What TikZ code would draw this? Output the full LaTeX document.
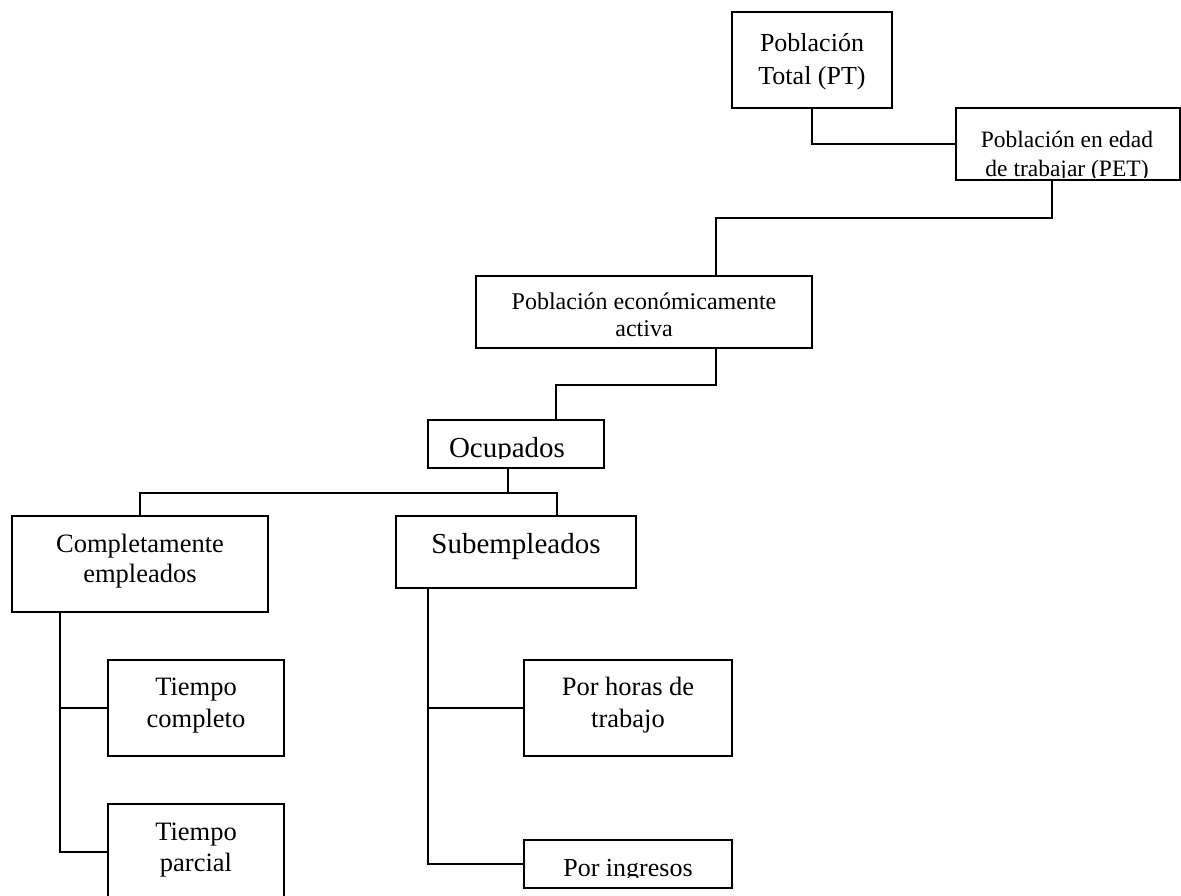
\documentclass[tikz,border=0pt]{standalone}
\usepackage{fontspec}
\setmainfont{Liberation Serif}
\begin{document}
\begin{tikzpicture}[x=1pt,y=-1pt,line width=1.8pt,
  box/.style={draw,rectangle,inner sep=0pt,line join=miter},
  lbl/.style={anchor=base,inner sep=0pt},
  fA/.style={font=\fontsize{26}{31}\selectfont},
  fB/.style={font=\fontsize{23.5}{28}\selectfont},
  fC/.style={font=\fontsize{24}{28}\selectfont},
  fD/.style={font=\fontsize{29}{34}\selectfont},
  fE/.style={font=\fontsize{26.5}{31}\selectfont}]
\useasboundingbox (0,0) rectangle (1181,896);
% boxes
\node[box,minimum width=160pt,minimum height=96pt] (PT) at (812,60) {};
\node[box,minimum width=224pt,minimum height=72pt] (PET) at (1068,144) {};
\node[box,minimum width=336pt,minimum height=72pt] (PEA) at (644,312) {};
\node[box,minimum width=176pt,minimum height=48pt] (OC) at (516,444) {};
\node[box,minimum width=256pt,minimum height=96pt] (CE) at (140,564) {};
\node[box,minimum width=240pt,minimum height=72pt] (SU) at (516,552) {};
\node[box,minimum width=176pt,minimum height=96pt] (TC) at (196,708) {};
\node[box,minimum width=176pt,minimum height=96pt] (TP) at (196,852) {};
\node[box,minimum width=208pt,minimum height=96pt] (PH) at (628,708) {};
\node[box,minimum width=208pt,minimum height=48pt] (PI) at (628,864) {};
% texts
\node[lbl,fA] (tPT1) at (812,52) {Población};
\node[lbl,fA] (tPT2) at (812,85) {Total (PT)};
\node[lbl,fB] (tPET1) at (1067,148) {Población en edad};
\begin{scope}
\clip (960,150) rectangle (1176,177.8);
\node[lbl,fB] (tPET2) at (1067,177) {de trabajar (PET)};
\end{scope}
\node[lbl,fC] (tPEA1) at (644,309) {Población económicamente};
\node[lbl,fC] (tPEA2) at (644,336) {activa};
\begin{scope}
\clip (432,422) rectangle (600,458.5);
\node[lbl,fD] (tOC) at (507,457) {Ocupados};
\end{scope}
\node[lbl,fE] (tCE1) at (140,552) {Completamente};
\node[lbl,fE] (tCE2) at (140,582) {empleados};
\node[lbl,fD] (tSU) at (516,553) {Subempleados};
\node[lbl,fE] (tTC1) at (196,695) {Tiempo};
\node[lbl,fE] (tTC2) at (196,727) {completo};
\node[lbl,fE] (tTP1) at (196,840) {Tiempo};
\node[lbl,fE] (tTP2) at (196,871) {parcial};
\node[lbl,fE] (tPH1) at (628,695) {Por horas de};
\node[lbl,fE] (tPH2) at (628,727) {trabajo};
\begin{scope}
\clip (528,845) rectangle (728,877);
\node[lbl,fA] (tPI) at (628,876) {Por ingresos};
\end{scope}
% connectors
\draw (PT.south) |- (PET.west);
\draw ([xshift=-16pt]PET.south) -- ++(0,37) -| ([xshift=72pt]PEA.north);
\draw ([xshift=72pt]PEA.south) -- ++(0,36) -| ([xshift=40pt]OC.north);
\draw ([xshift=-8pt]OC.south) -- ++(0,24) coordinate (ocj);
\draw (CE.north) |- (ocj) -| ([xshift=41pt]SU.north);
\draw ([xshift=-80pt]CE.south) |- (TP.west);
\draw ([xshift=-80pt]CE.south |- TC.west) -- (TC.west);
\draw ([xshift=-88pt]SU.south) |- (PI.west);
\draw ([xshift=-88pt]SU.south |- PH.west) -- (PH.west);
\end{tikzpicture}
\end{document}
